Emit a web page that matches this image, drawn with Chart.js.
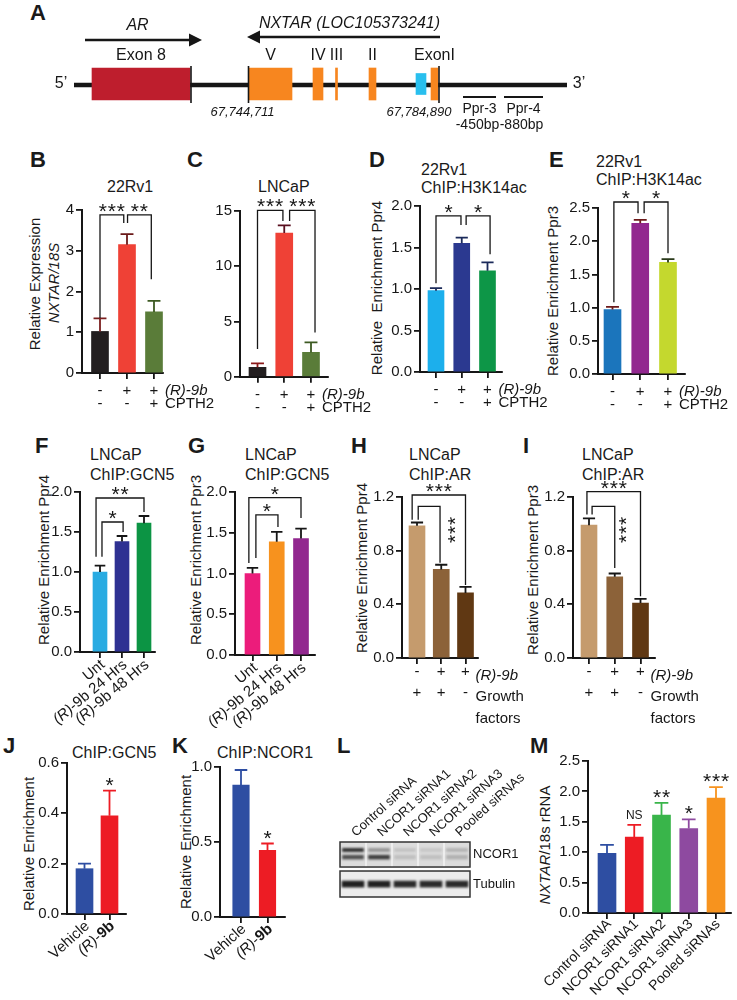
<!DOCTYPE html>
<html>
<head>
<meta charset="utf-8">
<title>NXTAR figure</title>
<script src="https://cdn.jsdelivr.net/npm/chart.js"></script>
<style>
  body { margin: 0; background: #fff; }
  #fig { position: relative; width: 737px; height: 1000px; overflow: hidden; background: #fff;
         font-family: "Liberation Sans", Arial, Helvetica, sans-serif; color: #1a1a1a; }
  #fig canvas { position: absolute; }
  .lt { position: absolute; font-weight: bold; font-size: 22px; line-height: 22px; }
  .t { position: absolute; white-space: nowrap; font-size: 16px; line-height: 18px; }
  .yt { position: absolute; white-space: nowrap; font-size: 15px; line-height: 16px;
        transform: translate(-50%, -50%) rotate(-90deg); }
</style>
</head>
<body>
<div id="fig">
  <!-- panel letters -->
  <div class="lt" style="left:30px;top:2px">A</div>
  <div class="lt" style="left:30px;top:149px">B</div>
  <div class="lt" style="left:187px;top:149px">C</div>
  <div class="lt" style="left:369px;top:149px">D</div>
  <div class="lt" style="left:549px;top:149px">E</div>
  <div class="lt" style="left:35px;top:435px">F</div>
  <div class="lt" style="left:188px;top:435px">G</div>
  <div class="lt" style="left:351px;top:435px">H</div>
  <div class="lt" style="left:523px;top:435px">I</div>
  <div class="lt" style="left:3px;top:735px">J</div>
  <div class="lt" style="left:172px;top:735px">K</div>
  <div class="lt" style="left:337px;top:735px">L</div>
  <div class="lt" style="left:530px;top:735px">M</div>

  <!-- panel titles -->
  <div class="t" style="left:107px;top:178px">22Rv1</div>
  <div class="t" style="left:258px;top:178px">LNCaP</div>
  <div class="t" style="left:421px;top:161px">22Rv1</div>
  <div class="t" style="left:421px;top:179px">ChIP:H3K14ac</div>
  <div class="t" style="left:596px;top:153px">22Rv1</div>
  <div class="t" style="left:596px;top:171px">ChIP:H3K14ac</div>
  <div class="t" style="left:90px;top:446px">LNCaP</div>
  <div class="t" style="left:90px;top:466px">ChIP:GCN5</div>
  <div class="t" style="left:245px;top:446px">LNCaP</div>
  <div class="t" style="left:245px;top:466px">ChIP:GCN5</div>
  <div class="t" style="left:409px;top:446px">LNCaP</div>
  <div class="t" style="left:409px;top:466px">ChIP:AR</div>
  <div class="t" style="left:582px;top:446px">LNCaP</div>
  <div class="t" style="left:582px;top:466px">ChIP:AR</div>
  <div class="t" style="left:72px;top:744px">ChIP:GCN5</div>
  <div class="t" style="left:217px;top:744px">ChIP:NCOR1</div>

  <!-- y axis titles -->
  <div class="yt" style="left:35px;top:284px">Relative Expression</div>
  <div class="yt" style="left:54px;top:283px"><i>NXTAR/18S</i></div>
  <div class="yt" style="left:377px;top:288px">Relative&nbsp; Enrichment Ppr4</div>
  <div class="yt" style="left:553px;top:291px">Relative Enrichment Ppr3</div>
  <div class="yt" style="left:44px;top:560px">Relative Enrichment Ppr4</div>
  <div class="yt" style="left:196px;top:560px">Relative Enrichment Ppr3</div>
  <div class="yt" style="left:362px;top:568px">Relative Enrichment Ppr4</div>
  <div class="yt" style="left:533px;top:570px">Relative Enrichment Ppr3</div>
  <div class="yt" style="left:29px;top:844px">Relative Enrichment</div>
  <div class="yt" style="left:186px;top:842px">Relative Enrichment</div>
  <div class="yt" style="left:545px;top:845px"><i>NXTAR</i>/18s rRNA</div>
</div>

<script>
// ---------- data ----------

// A: gene map (diagram units along the drawn locus)
const geneSpan = [0, 493];
const exonNames = ['Exon 8', 'V', 'IV', 'III', 'II', 'ExonI'];
const exonStart = [18, 175, 239, 261.5, 295, 357];
const exonEnd = [116, 218, 249, 263.5, 302, 364];
const exonColors = ['#be1e2d', '#f7861f', '#f7861f', '#f7861f', '#f7861f', '#f7861f'];
const tssBox = [342, 352];
const siteMarks = [117, 174.5, 365];
const siteLabels = ['', '67,744,711', '67,784,890'];
const arArrow = [11, 128];
const nxtarArrow = [366, 173];
const primerNames = ['Ppr-3', 'Ppr-4'];
const primerDist = ['-450bp', '-880bp'];
const primerStart = [389, 430];
const primerEnd = [422, 469];

// treatment rows under B-E, H-I
const r9bRow = ['-', '+', '+'];
const cpthRow = ['-', '-', '+'];
const growthRow = ['+', '+', '-'];

// B  22Rv1 qPCR
const bTicks = [0, 1, 2, 3, 4];
const bMean = [1.02, 3.15, 1.5];
const bErr = [0.32, 0.26, 0.27];
// C  LNCaP qPCR
const cTicks = [0, 5, 10, 15];
const cMean = [0.85, 13.0, 2.2];
const cErr = [0.35, 0.7, 0.9];
// D  22Rv1 H3K14ac Ppr4
const dTicks = [0, 0.5, 1.0, 1.5, 2.0];
const dMean = [0.98, 1.55, 1.22];
const dErr = [0.03, 0.07, 0.1];
// E  22Rv1 H3K14ac Ppr3
const eTicks = [0, 0.5, 1.0, 1.5, 2.0, 2.5];
const eMean = [0.97, 2.27, 1.68];
const eErr = [0.04, 0.05, 0.05];
// F, G  GCN5
const timeCats = ['Unt', '(R)-9b 24 Hrs', '(R)-9b 48 Hrs'];
const fgTicks = [0, 0.5, 1.0, 1.5, 2.0];
const fMean = [1.0, 1.38, 1.61];
const fErr = [0.08, 0.07, 0.09];
const gMean = [1.0, 1.39, 1.43];
const gErr = [0.07, 0.12, 0.12];
// H, I  AR
const hiTicks = [0, 0.4, 0.8, 1.2];
const hMean = [0.985, 0.66, 0.485];
const hErr = [0.025, 0.035, 0.045];
const iMean = [0.99, 0.605, 0.41];
const iErr = [0.05, 0.025, 0.03];
// J, K
const jkCats = ['Vehicle', '(R)-9b'];
const jTicks = [0, 0.2, 0.4, 0.6];
const jMean = [0.18, 0.39];
const jErr = [0.02, 0.1];
const kTicks = [0, 0.5, 1.0];
const kMean = [0.88, 0.445];
const kErr = [0.1, 0.045];
const jkSig = ['', '*'];
// L  western blot
const blotLanes = ['Control siRNA', 'NCOR1 siRNA1', 'NCOR1 siRNA2', 'NCOR1 siRNA3', 'Pooled siRNAs'];
const blotRows = ['NCOR1', 'Tubulin'];
const ncorUpper = [0.85, 0.35, 0.12, 0.1, 0.2];
const ncorLower = [0.7, 0.8, 0.14, 0.14, 0.22];
const tubulinBand = [0.95, 0.95, 0.9, 0.9, 0.9];
// M  siRNA qPCR
const mCats = ['Control siRNA', 'NCOR1 siRNA1', 'NCOR1 siRNA2', 'NCOR1 siRNA3', 'Pooled siRNAs'];
const mTicks = [0, 0.5, 1.0, 1.5, 2.0, 2.5];
const mMean = [0.98, 1.25, 1.61, 1.39, 1.89];
const mErr = [0.14, 0.2, 0.2, 0.15, 0.18];
const mSig = ['', 'NS', '**', '*', '***'];

// ---------- helpers ----------
const INK = '#161616';
const FAM = '"Liberation Sans", Arial, sans-serif';
Chart.defaults.font.family = FAM;
Chart.defaults.color = INK;
const fig = document.getElementById('fig');

function font(size, style) {
  return (style ? style + ' ' : '') + size + 'px ' + FAM;
}

function addCanvas(g) {
  const cv = document.createElement('canvas');
  cv.width = g.w;
  cv.height = g.h;
  cv.style.left = g.left + 'px';
  cv.style.top = g.top + 'px';
  fig.appendChild(cv);
  return cv;
}

// row of asterisks centred on (cx, cy)
function drawStars(ctx, label, cx, cy) {
  ctx.textAlign = 'center';
  if (!/^\*+$/.test(label)) {
    ctx.font = font(12);
    ctx.textBaseline = 'middle';
    ctx.fillText(label, cx, cy);
    return;
  }
  ctx.font = font(21);
  ctx.textBaseline = 'alphabetic';
  const m = ctx.measureText('*');
  const base = cy + (m.actualBoundingBoxAscent - m.actualBoundingBoxDescent) / 2;
  const n = label.length;
  for (let i = 0; i < n; i++) ctx.fillText('*', cx + (i - (n - 1) / 2) * 9, base);
}

// "(R)-9b" gets italic R, optional bold 9b
function labelSegs(text, boldNum) {
  const m = text.match(/^\(R\)-9b(.*)$/);
  if (!m) return [{ t: text, s: '' }];
  return [{ t: '(R)', s: 'italic' }, { t: '-', s: '' }, { t: '9b', s: boldNum ? 'bold' : '' }, { t: m[1], s: '' }];
}

// rotated label whose right end sits at (x, y)
function rotText(ctx, segs, x, y, deg, size) {
  ctx.save();
  ctx.translate(x, y);
  ctx.rotate(-deg * Math.PI / 180);
  ctx.textAlign = 'left';
  ctx.textBaseline = 'middle';
  let w = 0;
  segs.forEach(s => { ctx.font = font(size, s.s); w += ctx.measureText(s.t).width; });
  let cx = -w;
  segs.forEach(s => { ctx.font = font(size, s.s); ctx.fillText(s.t, cx, 0); cx += ctx.measureText(s.t).width; });
  ctx.restore();
}

function drawArrow(ctx, x1, x2, y) {
  const dir = Math.sign(x2 - x1);
  const head = 13;
  ctx.lineWidth = 2.5;
  ctx.beginPath();
  ctx.moveTo(x1, y);
  ctx.lineTo(x2 - dir * head, y);
  ctx.stroke();
  ctx.beginPath();
  ctx.moveTo(x2, y);
  ctx.lineTo(x2 - dir * head, y - 6.5);
  ctx.lineTo(x2 - dir * head, y + 6.5);
  ctx.closePath();
  ctx.fill();
}

// error bars, significance brackets and x labels for the bar panels
function marksPlugin(o) {
  return {
    id: 'marks',
    afterDatasetsDraw(chart) {
      const ctx = chart.ctx, xs = chart.scales.x, ys = chart.scales.y;
      const bars = chart.getDatasetMeta(0).data;
      const y0 = ys.getPixelForValue(0);
      ctx.save();
      ctx.fillStyle = INK;
      o.mean.forEach((v, i) => {
        const x = bars[i].x, w = bars[i].width;
        const yb = ys.getPixelForValue(v), ye = ys.getPixelForValue(v + o.err[i]);
        ctx.strokeStyle = o.errColors[i];
        ctx.lineWidth = 1.8;
        ctx.beginPath();
        ctx.moveTo(x, yb); ctx.lineTo(x, ye);
        ctx.moveTo(x - w * 0.38, ye); ctx.lineTo(x + w * 0.38, ye);
        ctx.stroke();
        if (o.sig && o.sig[i]) drawStars(ctx, o.sig[i], x, ye - 9);
      });
      ctx.strokeStyle = INK;
      ctx.lineWidth = 1.3;
      (o.brackets || []).forEach(b => {
        const x1 = xs.getPixelForValue(b[0]), x2 = xs.getPixelForValue(b[1]);
        const yt = ys.getPixelForValue(b[2]);
        ctx.beginPath();
        ctx.moveTo(x1, ys.getPixelForValue(b[3]));
        ctx.lineTo(x1, yt);
        ctx.lineTo(x2, yt);
        ctx.lineTo(x2, ys.getPixelForValue(b[4]));
        ctx.stroke();
        if (b.length > 6) {
          ctx.save();
          ctx.translate(xs.getPixelForValue(b[6]), ys.getPixelForValue(b[7]));
          ctx.rotate(-Math.PI / 2);
          drawStars(ctx, b[5], 0, 0);
          ctx.restore();
        } else {
          drawStars(ctx, b[5], (x1 + x2) / 2, yt - 7);
        }
      });
      const last = xs.getPixelForValue(o.mean.length - 1);
      (o.rows || []).forEach(r => {
        ctx.font = font(o.rowSize);
        ctx.textAlign = 'center';
        ctx.textBaseline = 'middle';
        r.signs.forEach((s, i) => ctx.fillText(s, xs.getPixelForValue(i), y0 + r.dy));
      });
      (o.suffix || []).forEach(s => {
        ctx.font = font(o.rowSize, s.italic ? 'italic' : '');
        ctx.textAlign = 'left';
        ctx.textBaseline = 'middle';
        ctx.fillText(s.t, last + s.dx, y0 + s.dy);
      });
      if (o.rot) {
        o.rot.cats.forEach((c, i) => {
          rotText(ctx, labelSegs(c, o.rot.bold), xs.getPixelForValue(i) + o.rot.dx, y0 + o.rot.dy, o.rot.angle, o.rot.size);
        });
      }
      ctx.restore();
    }
  };
}

function barPanel(g, o) {
  const cv = addCanvas(g);
  const idx = o.mean.map((v, i) => i);
  const top = o.ticks[o.ticks.length - 1];
  return new Chart(cv, {
    type: 'bar',
    data: {
      datasets: [{
        data: o.mean.map((v, i) => ({ x: i, y: v })),
        backgroundColor: o.colors,
        borderWidth: 0,
        barThickness: g.barW
      }]
    },
    options: {
      responsive: false,
      animation: false,
      events: [],
      layout: { padding: { left: 0, top: g.yTopPx - g.top, right: g.left + g.w - g.xEnd, bottom: 0 } },
      plugins: { legend: { display: false }, tooltip: { enabled: false } },
      scales: {
        x: {
          type: 'linear',
          min: (g.axisX - g.c0) / g.sp,
          max: (g.xEnd - g.c0) / g.sp,
          offset: false,
          afterBuildTicks: s => { s.ticks = idx.map(v => ({ value: v })); },
          afterFit: s => { s.height = g.top + g.h - g.y0Px; },
          ticks: { display: false },
          grid: { offset: false, drawOnChartArea: false, tickLength: 6, lineWidth: 1.8, color: INK },
          border: { width: 2, color: INK }
        },
        y: {
          min: 0,
          max: top,
          afterBuildTicks: s => { s.ticks = o.ticks.map(v => ({ value: v })); },
          afterFit: s => { s.width = g.axisX - g.left; },
          ticks: { font: { size: 15 }, color: INK, padding: 2, callback: v => v.toFixed(o.dec) },
          grid: { drawOnChartArea: false, tickLength: 6, lineWidth: 1.8, color: INK },
          border: { width: 2, color: INK }
        }
      }
    },
    plugins: [marksPlugin(o)]
  });
}

// ---------- panel A ----------
const genePlugin = {
  id: 'geneMap',
  beforeDatasetsDraw(chart) {
    const { ctx, scales: { x, y } } = chart;
    const yc = y.getPixelForValue(0);
    ctx.save();
    ctx.strokeStyle = INK;
    ctx.lineWidth = 4.5;
    ctx.beginPath();
    ctx.moveTo(x.getPixelForValue(geneSpan[0]), yc + 1);
    ctx.lineTo(x.getPixelForValue(geneSpan[1]), yc + 1);
    ctx.stroke();
    ctx.restore();
  },
  afterDatasetsDraw(chart) {
    const { ctx, scales: { x, y } } = chart;
    const yc = y.getPixelForValue(0);
    const px = v => x.getPixelForValue(v);
    ctx.save();
    ctx.fillStyle = INK;
    ctx.strokeStyle = INK;
    ctx.lineWidth = 1.6;
    siteMarks.forEach(m => {
      ctx.beginPath();
      ctx.moveTo(px(m), yc - 18);
      ctx.lineTo(px(m), yc + 19);
      ctx.stroke();
    });
    drawArrow(ctx, px(arArrow[0]), px(arArrow[1]), yc - 44);
    drawArrow(ctx, px(nxtarArrow[0]), px(nxtarArrow[1]), yc - 47);

    ctx.textBaseline = 'middle';
    ctx.textAlign = 'center';
    ctx.font = font(16, 'italic');
    ctx.fillText('AR', (px(arArrow[0]) + px(arArrow[1])) / 2 - 6, yc - 58);
    ctx.textAlign = 'right';
    ctx.fillText('NXTAR (LOC105373241)', px(nxtarArrow[0]), yc - 60);

    ctx.textAlign = 'center';
    ctx.font = font(16);
    exonNames.forEach((n, i) => ctx.fillText(n, (px(exonStart[i]) + px(exonEnd[i])) / 2, yc - 28));
    ctx.fillText('5\u2019', px(geneSpan[0]) - 13, yc);
    ctx.fillText('3\u2019', px(geneSpan[1]) + 12, yc);

    ctx.font = font(13, 'italic');
    ctx.fillText(siteLabels[1], px(siteMarks[1]) - 6, yc + 28);
    ctx.fillText(siteLabels[2], px(siteMarks[2]) - 20, yc + 28);

    ctx.lineWidth = 2;
    ctx.font = font(14);
    primerNames.forEach((n, i) => {
      const a = px(primerStart[i]), b = px(primerEnd[i]);
      ctx.beginPath();
      ctx.moveTo(a, yc + 13);
      ctx.lineTo(b, yc + 13);
      ctx.stroke();
      ctx.fillText(n, (a + b) / 2, yc + 25);
      ctx.fillText(primerDist[i], (a + b) / 2 - 2, yc + 41);
    });
    ctx.restore();
  }
};

new Chart(addCanvas({ left: 0, top: 0, w: 737, h: 150 }), {
  type: 'bar',
  data: {
    labels: ['locus'],
    datasets: [
      {
        data: exonStart.map((s, i) => ({ x: [s, exonEnd[i]], y: 'locus' })),
        backgroundColor: exonColors, borderWidth: 0, barThickness: 32, grouped: false
      },
      {
        data: [{ x: tssBox, y: 'locus' }],
        backgroundColor: '#29bfee', borderWidth: 0, barThickness: 21, grouped: false
      }
    ]
  },
  options: {
    indexAxis: 'y',
    responsive: false,
    animation: false,
    events: [],
    layout: { padding: { left: 74, right: 170, top: 60, bottom: 42 } },
    plugins: { legend: { display: false }, tooltip: { enabled: false } },
    scales: {
      x: { type: 'linear', display: false, min: geneSpan[0], max: geneSpan[1] },
      y: { display: false }
    }
  },
  plugins: [genePlugin]
});

// ---------- bar panels ----------
const rowsCPTH = {
  rowSize: 15,
  rows: [{ dy: 18, signs: r9bRow }, { dy: 31, signs: cpthRow }],
  suffix: [{ t: '(R)-9b', italic: true, dx: 11, dy: 18 }, { t: 'CPTH2', dx: 11, dy: 31 }]
};
const rowsGrowth = {
  rowSize: 15,
  rows: [{ dy: 14, signs: r9bRow }, { dy: 35, signs: growthRow }],
  suffix: [{ t: '(R)-9b', italic: true, dx: 10, dy: 18 }, { t: 'Growth', dx: 10, dy: 39 }, { t: 'factors', dx: 10, dy: 61 }]
};

barPanel({ left: 0, top: 195, w: 230, h: 230, axisX: 82, xEnd: 163, yTopPx: 210, y0Px: 373, c0: 100, sp: 27, barW: 17 },
  Object.assign({
    mean: bMean, err: bErr, ticks: bTicks, dec: 0,
    colors: ['#231f20', '#ef4136', '#5a7c39'], errColors: ['#7a1f1f', '#6b1a1a', '#3d5a22'],
    brackets: [[0, 0.88, 3.88, 1.35, 3.68, '***'], [1.02, 1.9, 3.88, 3.68, 2.3, '**']]
  }, rowsCPTH));

barPanel({ left: 195, top: 195, w: 190, h: 230, axisX: 240, xEnd: 328, yTopPx: 211, y0Px: 376.7, c0: 257.5, sp: 26.75, barW: 17 },
  Object.assign({
    mean: cMean, err: cErr, ticks: cTicks, dec: 0,
    colors: ['#231f20', '#ef4136', '#5a7c39'], errColors: ['#8b1a1a', '#5a1020', '#3d5a22'],
    brackets: [[0, 0.95, 15.05, 2.5, 14.1, '***'], [1.2, 2.15, 15.05, 14.1, 4.0, '***']]
  }, rowsCPTH));

barPanel({ left: 385, top: 195, w: 185, h: 230, axisX: 420, xEnd: 502, yTopPx: 204, y0Px: 372, c0: 436, sp: 25.75, barW: 16 },
  Object.assign({
    mean: dMean, err: dErr, ticks: dTicks, dec: 1,
    colors: ['#1cafec', '#2b3990', '#0d9647'], errColors: ['#1b2a5a', '#1b2a5a', '#1b2a5a'],
    brackets: [[0, 0.97, 1.88, 1.07, 1.77, '*'], [1.17, 2.1, 1.88, 1.77, 1.42, '*']]
  }, rowsCPTH));

barPanel({ left: 560, top: 190, w: 177, h: 235, axisX: 598, xEnd: 685, yTopPx: 208, y0Px: 374, c0: 612.5, sp: 27.75, barW: 17 },
  Object.assign({
    mean: eMean, err: eErr, ticks: eTicks, dec: 1,
    colors: ['#1b75bc', '#92278f', '#c4d82e'], errColors: ['#6d1a1a', '#6d1a1a', '#2a3a1a'],
    brackets: [[0.05, 0.92, 2.59, 1.08, 2.42, '*'], [1.14, 2.0, 2.59, 2.42, 1.82, '*']]
  }, rowsCPTH));

barPanel({ left: 45, top: 480, w: 145, h: 248, axisX: 80, xEnd: 155, yTopPx: 492, y0Px: 652, c0: 100, sp: 22, barW: 14 }, {
  mean: fMean, err: fErr, ticks: fgTicks, dec: 1,
  colors: ['#29abe2', '#2e3192', '#0c9444'], errColors: [INK, INK, INK],
  brackets: [[-0.18, 2.0, 1.925, 1.19, 1.75, '**'], [0.09, 1.05, 1.625, 1.19, 1.5, '*']],
  rot: { cats: timeCats, angle: 40, dx: 3, dy: 11, size: 15 }
});

barPanel({ left: 200, top: 480, w: 130, h: 248, axisX: 235, xEnd: 315, yTopPx: 492, y0Px: 655, c0: 252.5, sp: 24.25, barW: 15 }, {
  mean: gMean, err: gErr, ticks: fgTicks, dec: 1,
  colors: ['#ec1c7b', '#f7921e', '#92278f'], errColors: [INK, INK, INK],
  brackets: [[-0.15, 2.0, 1.93, 1.13, 1.68, '*'], [0.14, 1.05, 1.72, 1.19, 1.57, '*']],
  rot: { cats: timeCats, angle: 40, dx: 3, dy: 11, size: 15 }
});

barPanel({ left: 367, top: 480, w: 175, h: 250, axisX: 402, xEnd: 478, yTopPx: 497, y0Px: 658, c0: 417, sp: 24.25, barW: 16 },
  Object.assign({
    mean: hMean, err: hErr, ticks: hiTicks, dec: 1,
    colors: ['#c59b6d', '#8c6239', '#603813'], errColors: [INK, INK, INK],
    brackets: [[-0.2, 2.0, 1.215, 1.03, 0.545, '***'], [0.05, 0.95, 1.13, 1.03, 0.71, '***', 1.44, 0.955]]
  }, rowsGrowth));

barPanel({ left: 538, top: 480, w: 199, h: 250, axisX: 573, xEnd: 655, yTopPx: 497, y0Px: 658, c0: 589, sp: 25.75, barW: 16 },
  Object.assign({
    mean: iMean, err: iErr, ticks: hiTicks, dec: 1,
    colors: ['#c59b6d', '#8c6239', '#603813'], errColors: [INK, INK, INK],
    brackets: [[-0.08, 2.0, 1.24, 1.07, 0.46, '***'], [0.12, 1.0, 1.13, 1.07, 0.67, '***', 1.32, 0.955]]
  }, rowsGrowth));

barPanel({ left: 35, top: 750, w: 105, h: 250, axisX: 67, xEnd: 126, yTopPx: 763, y0Px: 914, c0: 84.5, sp: 25, barW: 17 }, {
  mean: jMean, err: jErr, ticks: jTicks, dec: 1, sig: jkSig,
  colors: ['#2e4ea2', '#ed1c24'], errColors: ['#2e4ea2', '#ed1c24'],
  rot: { cats: jkCats, angle: 42, dx: 3, dy: 10, size: 15, bold: true }
});

barPanel({ left: 188, top: 750, w: 112, h: 250, axisX: 220, xEnd: 285, yTopPx: 767, y0Px: 917, c0: 241, sp: 26.5, barW: 16.5 }, {
  mean: kMean, err: kErr, ticks: kTicks, dec: 1, sig: jkSig,
  colors: ['#2e4ea2', '#ed1c24'], errColors: ['#2e4ea2', '#ed1c24'],
  rot: { cats: jkCats, angle: 42, dx: 3, dy: 10, size: 15, bold: true }
});

barPanel({ left: 540, top: 750, w: 197, h: 250, axisX: 588, xEnd: 731, yTopPx: 759, y0Px: 913, c0: 607, sp: 27.25, barW: 18 }, {
  mean: mMean, err: mErr, ticks: mTicks, dec: 1, sig: mSig,
  colors: ['#2e4ea2', '#ed1c24', '#39b54a', '#8e4aa0', '#f7931e'],
  errColors: ['#2e4ea2', '#ed1c24', '#39b54a', '#8e4aa0', '#f7931e'],
  rot: { cats: mCats, angle: 45, dx: 2, dy: 9, size: 14 }
});

// ---------- panel L (blot) ----------
const bandUpper = [1.65, 1.77];
const bandLower = [1.38, 1.52];
const bandTubulin = [0.36, 0.58];
const membranes = [[1.09, 2], [0, 0.945]];
const shade = a => 'rgba(22,22,22,' + a + ')';

const blotPlugin = {
  id: 'blot',
  beforeDatasetsDraw(chart) {
    const { ctx, scales: { x, y }, chartArea: a } = chart;
    ctx.save();
    membranes.forEach((m, k) => {
      const t = y.getPixelForValue(m[1]), b = y.getPixelForValue(m[0]);
      ctx.fillStyle = k === 0 ? '#dcdcdc' : '#ececec';
      ctx.fillRect(a.left, t, a.right - a.left, b - t);
    });
    ctx.strokeStyle = '#f4f4f4';
    ctx.lineWidth = 1.5;
    for (let i = 1; i < blotLanes.length; i++) {
      const xm = (x.getPixelForValue(i - 1) + x.getPixelForValue(i)) / 2;
      ctx.beginPath();
      ctx.moveTo(xm, y.getPixelForValue(membranes[0][1]));
      ctx.lineTo(xm, y.getPixelForValue(membranes[0][0]));
      ctx.stroke();
    }
    ctx.filter = 'blur(1.2px)';
  },
  afterDatasetsDraw(chart) {
    const { ctx, scales: { x, y }, chartArea: a } = chart;
    ctx.restore();
    ctx.save();
    ctx.strokeStyle = '#333';
    ctx.lineWidth = 1.5;
    membranes.forEach(m => {
      const t = y.getPixelForValue(m[1]), b = y.getPixelForValue(m[0]);
      ctx.strokeRect(a.left, t, a.right - a.left, b - t);
    });
    ctx.fillStyle = INK;
    ctx.font = font(13);
    ctx.textAlign = 'left';
    ctx.textBaseline = 'middle';
    blotRows.forEach((r, k) => {
      const m = membranes[k];
      ctx.fillText(r, a.right + 3, (y.getPixelForValue(m[0]) + y.getPixelForValue(m[1])) / 2);
    });
    blotLanes.forEach((lane, i) => {
      ctx.save();
      ctx.translate(x.getPixelForValue(i) + 3, a.top - 5);
      ctx.rotate(-42 * Math.PI / 180);
      ctx.textBaseline = 'alphabetic';
      ctx.fillText(lane, 0, 0);
      ctx.restore();
    });
    ctx.restore();
  }
};

new Chart(addCanvas({ left: 335, top: 740, w: 200, h: 170 }), {
  type: 'bar',
  data: {
    labels: blotLanes,
    datasets: [
      { data: blotLanes.map(() => bandUpper), backgroundColor: ncorUpper.map(shade), borderWidth: 0, barThickness: 21, grouped: false },
      { data: blotLanes.map(() => bandLower), backgroundColor: ncorLower.map(shade), borderWidth: 0, barThickness: 21, grouped: false },
      { data: blotLanes.map(() => bandTubulin), backgroundColor: tubulinBand.map(shade), borderWidth: 0, barThickness: 22, grouped: false }
    ]
  },
  options: {
    responsive: false,
    animation: false,
    events: [],
    layout: { padding: { left: 5, right: 65, top: 102, bottom: 13 } },
    plugins: { legend: { display: false }, tooltip: { enabled: false } },
    scales: { x: { display: false }, y: { display: false, min: 0, max: 2 } }
  },
  plugins: [blotPlugin]
});
</script>
</body>
</html>
